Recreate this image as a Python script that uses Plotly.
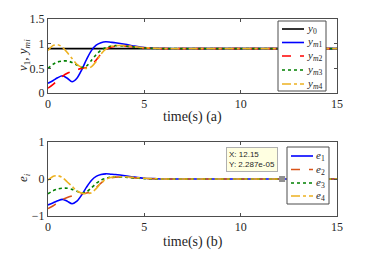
import plotly.graph_objects as go

t = [0, 0.25, 0.5, 0.75, 1.0, 1.25, 1.5, 1.75, 2.0, 2.25, 2.5, 2.75, 3.0, 3.25, 3.5, 4.0, 4.5, 5.0, 5.5, 6.0, 8.0, 10.0, 12.0, 15.0]

y0  = [0.9]*24
ym1 = [0.20, 0.25, 0.31, 0.35, 0.30, 0.23, 0.30, 0.47, 0.68, 0.86, 0.97, 1.02, 1.04, 1.03, 1.02, 0.99, 0.95, 0.92, 0.91, 0.90, 0.90, 0.90, 0.90, 0.90]
ym2 = [0.10, 0.17, 0.26, 0.34, 0.40, 0.44, 0.47, 0.50, 0.52, 0.57, 0.67, 0.79, 0.88, 0.93, 0.95, 0.95, 0.93, 0.91, 0.905, 0.90, 0.90, 0.90, 0.90, 0.90]
ym3 = [0.50, 0.58, 0.63, 0.65, 0.65, 0.62, 0.57, 0.52, 0.55, 0.66, 0.78, 0.87, 0.92, 0.95, 0.96, 0.95, 0.93, 0.91, 0.905, 0.90, 0.90, 0.90, 0.90, 0.90]
ym4 = [0.86, 0.96, 0.98, 0.93, 0.82, 0.70, 0.58, 0.52, 0.50, 0.53, 0.64, 0.79, 0.89, 0.94, 0.96, 0.96, 0.94, 0.92, 0.91, 0.90, 0.90, 0.90, 0.90, 0.90]

e1 = [-0.70, -0.65, -0.59, -0.55, -0.60, -0.67, -0.60, -0.43, -0.22, -0.04, 0.07, 0.12, 0.14, 0.13, 0.12, 0.09, 0.05, 0.02, 0.01, 0.0, 0.0, 0.0, 0.0, 0.0]
e2 = [-0.80, -0.73, -0.64, -0.56, -0.50, -0.46, -0.43, -0.40, -0.38, -0.33, -0.23, -0.11, -0.02, 0.03, 0.05, 0.05, 0.03, 0.01, 0.005, 0.0, 0.0, 0.0, 0.0, 0.0]
e3 = [-0.40, -0.32, -0.27, -0.25, -0.25, -0.28, -0.33, -0.38, -0.35, -0.24, -0.12, -0.03, 0.02, 0.05, 0.06, 0.05, 0.03, 0.01, 0.005, 0.0, 0.0, 0.0, 0.0, 0.0]
e4 = [-0.03, 0.07, 0.09, 0.04, -0.08, -0.20, -0.32, -0.38, -0.40, -0.37, -0.26, -0.11, -0.01, 0.04, 0.06, 0.06, 0.04, 0.02, 0.01, 0.0, 0.0, 0.0, 0.0, 0.0]

tip_x = [12.15]
tip_y = [2.287e-05]

x_ticks = [0, 5, 10, 15]
top_ticks = [0, 0.5, 1, 1.5]
top_ticklabels = ["0", "0.5", "1", "1.5"]
bot_ticks = [-1, 0, 1]

top_names = ["<i>y</i><sub>0</sub>", "<i>y</i><sub><i>m</i>1</sub>", "<i>y</i><sub><i>m</i>2</sub>",
             "<i>y</i><sub><i>m</i>3</sub>", "<i>y</i><sub><i>m</i>4</sub>"]
bot_names = ["<i>e</i><sub>1</sub>", "<i>e</i><sub>2</sub>", "<i>e</i><sub>3</sub>", "<i>e</i><sub>4</sub>"]

FONT = "Liberation Serif"
W, H = 372, 257
ML, MR, MT, MB = 48, 35, 19, 41
PW, PH = W - ML - MR, H - MT - MB


def px(x):
    return (x - ML) / PW


def py(y):
    return (H - MB - y) / PH


fig = go.Figure()

top_styles = [("#000000", "solid"), ("#0000ff", "solid"), ("#ff0000", "dash"),
              ("#008000", "dot"), ("#edb120", "dashdot")]
for y, name, (c, d) in zip([y0, ym1, ym2, ym3, ym4], top_names, top_styles):
    fig.add_trace(go.Scatter(x=t, y=y, name=name, mode="lines", showlegend=False,
                             line=dict(color=c, dash=d, width=1.6, shape="spline", smoothing=0.8),
                             xaxis="x", yaxis="y"))

bot_styles = [("#0000ff", "solid"), ("#d95319", "dash"), ("#008000", "dot"), ("#edb120", "dashdot")]
for y, name, (c, d) in zip([e1, e2, e3, e4], bot_names, bot_styles):
    fig.add_trace(go.Scatter(x=t, y=y, name=name, mode="lines", showlegend=False,
                             line=dict(color=c, dash=d, width=1.6, shape="spline", smoothing=0.8),
                             xaxis="x2", yaxis="y2"))

fig.add_trace(go.Scatter(x=tip_x, y=tip_y, mode="markers", showlegend=False,
                         marker=dict(symbol="square", size=6, color="#909090"),
                         xaxis="x2", yaxis="y2"))

axis_common = dict(showgrid=False, zeroline=False, showline=True, linecolor="#4d4d4d",
                   linewidth=1, mirror="ticks", ticks="inside", ticklen=3, tickcolor="#4d4d4d",
                   tickfont=dict(family=FONT, size=12, color="#262626"))

fig.update_layout(
    width=W, height=H,
    margin=dict(l=ML, r=MR, t=MT, b=MB, autoexpand=False),
    paper_bgcolor="white", plot_bgcolor="white",
    font=dict(family=FONT, color="#262626"),
    xaxis=dict(domain=[0, 1], range=[0, 15], tickvals=x_ticks, anchor="y", **axis_common),
    yaxis=dict(domain=[0.624, 1], range=[0, 1.5], tickvals=top_ticks, ticktext=top_ticklabels,
               anchor="x", **axis_common),
    xaxis2=dict(domain=[0, 1], range=[0, 15], tickvals=x_ticks, anchor="y2", **axis_common),
    yaxis2=dict(domain=[0, 0.3756], range=[-1, 1], tickvals=bot_ticks, anchor="x2", **axis_common),
    showlegend=False,
)

shapes = []
anns = []


def legend_box(x0, y0_, x1, y1, rows, names, styles, lx0, lx1, tx):
    shapes.append(dict(type="rect", xref="paper", yref="paper", x0=px(x0), x1=px(x1),
                       y0=py(y1), y1=py(y0_), line=dict(color="#4d4d4d", width=1),
                       fillcolor="white", layer="above"))
    for ry, name, (c, d) in zip(rows, names, styles):
        shapes.append(dict(type="line", xref="paper", yref="paper", x0=px(lx0), x1=px(lx1),
                           y0=py(ry), y1=py(ry), line=dict(color=c, dash=d, width=1.6),
                           layer="above"))
        anns.append(dict(text=name, x=px(tx), y=py(ry), xref="paper", yref="paper",
                         showarrow=False, xanchor="left", yanchor="middle",
                         font=dict(family=FONT, size=11, color="#262626")))


legend_box(278, 21, 326, 91, [29, 42.5, 56, 70, 84], top_names, top_styles, 282, 304, 305)
legend_box(287, 147, 329, 204, [156, 169.5, 183, 196], bot_names, bot_styles, 291, 313, 314)

anns += [
    dict(text="time(s) (a)", x=0.5, y=py(117), xref="paper", yref="paper", showarrow=False,
         xanchor="center", yanchor="middle", font=dict(family=FONT, size=14, color="#262626")),
    dict(text="time(s) (b)", x=0.5, y=py(242), xref="paper", yref="paper", showarrow=False,
         xanchor="center", yanchor="middle", font=dict(family=FONT, size=14, color="#262626")),
    dict(text="<i>v</i><sub>1</sub>, <i>y</i><sub><i>mi</i></sub>", x=px(23), y=py(55),
         xref="paper", yref="paper", showarrow=False, textangle=-90,
         xanchor="center", yanchor="middle", font=dict(family=FONT, size=13, color="#262626")),
    dict(text="<i>e</i><sub><i>i</i></sub>", x=px(23), y=py(178),
         xref="paper", yref="paper", showarrow=False, textangle=-90,
         xanchor="center", yanchor="middle", font=dict(family=FONT, size=13, color="#262626")),
    dict(text="X: 12.15<br>Y: 2.287e-05", x=tip_x[0], y=tip_y[0], xref="x2", yref="y2",
         showarrow=False, xanchor="right", yanchor="bottom", xshift=-4, yshift=7, align="left",
         bgcolor="#ffffe1", bordercolor="#b0b0b0", borderwidth=1, borderpad=2,
         font=dict(family="Liberation Sans", size=8, color="#262626")),
]
fig.update_layout(shapes=shapes, annotations=anns)

fig.write_html("out.html", config={"displayModeBar": False},
               post_script="document.body.style.margin='0';document.body.style.overflow='hidden';")
